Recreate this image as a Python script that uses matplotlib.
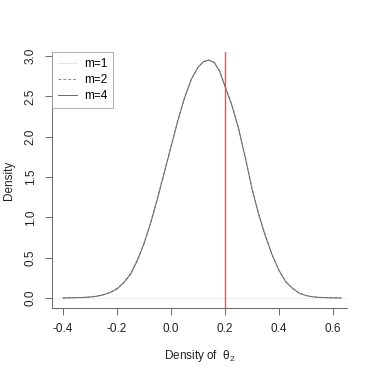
import matplotlib
matplotlib.use("Agg")
import matplotlib.pyplot as plt

plt.rcParams['font.family'] = ['Liberation Sans', 'DejaVu Sans']
plt.rcParams['mathtext.fontset'] = 'custom'
plt.rcParams['mathtext.rm'] = 'Liberation Sans'
plt.rcParams['mathtext.it'] = 'Liberation Sans'

# Posterior density of theta_2 for three values of m
theta = [-0.40, -0.375, -0.35, -0.325, -0.30, -0.275, -0.25, -0.225, -0.20, -0.175,
         -0.15, -0.125, -0.10, -0.075, -0.05, -0.025, 0.00, 0.025, 0.05, 0.075,
         0.10, 0.12, 0.14, 0.16, 0.18, 0.20, 0.225, 0.25, 0.275, 0.30,
         0.325, 0.35, 0.375, 0.40, 0.425, 0.45, 0.475, 0.50, 0.525, 0.55,
         0.575, 0.60, 0.63]
dens_m1 = [0.00, 0.002, 0.004, 0.008, 0.013, 0.023, 0.042, 0.072, 0.12, 0.20,
           0.31, 0.48, 0.69, 0.95, 1.25, 1.57, 1.89, 2.21, 2.49, 2.72,
           2.86, 2.93, 2.95, 2.92, 2.82, 2.64, 2.41, 2.12, 1.76, 1.37,
           1.05, 0.78, 0.54, 0.35, 0.21, 0.12, 0.06, 0.03, 0.015, 0.008,
           0.004, 0.002, 0.00]
dens_m2 = [0.00, 0.002, 0.004, 0.007, 0.012, 0.022, 0.040, 0.070, 0.12, 0.19,
           0.30, 0.47, 0.68, 0.94, 1.24, 1.56, 1.88, 2.20, 2.48, 2.71,
           2.86, 2.93, 2.95, 2.92, 2.82, 2.63, 2.40, 2.11, 1.75, 1.36,
           1.04, 0.77, 0.53, 0.34, 0.20, 0.12, 0.06, 0.03, 0.015, 0.008,
           0.004, 0.002, 0.00]
dens_m4 = [0.00, 0.002, 0.004, 0.007, 0.012, 0.022, 0.040, 0.069, 0.11, 0.19,
           0.29, 0.46, 0.67, 0.93, 1.23, 1.55, 1.87, 2.19, 2.48, 2.71,
           2.86, 2.93, 2.95, 2.92, 2.81, 2.62, 2.39, 2.10, 1.74, 1.35,
           1.03, 0.76, 0.53, 0.34, 0.20, 0.12, 0.06, 0.03, 0.014, 0.007,
           0.004, 0.002, 0.00]
true_value = 0.2

fig = plt.figure(figsize=(3.74, 3.74), dpi=100)
ax = fig.add_axes([0.139, 0.1765, 0.789, 0.6845])

ax.axhline(0, color='#ececec', lw=0.7, zorder=1)
ax.plot(theta, dens_m1, color='#c0c0c0', lw=0.7, linestyle=(0, (1, 1.5)), label='m=1')
ax.plot(theta, dens_m2, color='#8c8c8c', lw=0.7, linestyle=(0, (3, 2)), label='m=2')
ax.plot(theta, dens_m4, color='#6a6a6a', lw=0.7, label='m=4')
ax.axvline(true_value, color='#ff4a4a', lw=1.0)

ax.set_xlim(-0.4407, 0.652)
ax.set_ylim(-0.124, 3.05)
ax.set_xticks([-0.4, -0.2, 0.0, 0.2, 0.4, 0.6])
ax.set_xticklabels(['-0.4', '-0.2', '0.0', '0.2', '0.4', '0.6'])
ax.set_yticks([0.0, 0.5, 1.0, 1.5, 2.0, 2.5, 3.0])
ax.set_yticklabels(['0.0', '0.5', '1.0', '1.5', '2.0', '2.5', '3.0'],
                   rotation=90, va='center')

for s in ['top', 'right']:
    ax.spines[s].set_visible(False)
for s in ['left', 'bottom']:
    ax.spines[s].set_color('#666666')
    ax.spines[s].set_linewidth(0.7)
ax.tick_params(colors='#666666', labelcolor='#222222', labelsize=8.5,
               length=5, width=0.7, pad=6)

ax.set_xlabel(r'Density of  $\theta_2$', fontsize=8.5, color='#222222', labelpad=9)
ax.set_ylabel('Density', fontsize=8.5, color='#222222', va='center')
ax.yaxis.set_label_coords(-0.145, 0.5)

leg = ax.legend(loc='upper left', bbox_to_anchor=(0, 1.0), borderaxespad=0,
                fancybox=False, fontsize=8.5, handlelength=1.6, handletextpad=0.6,
                labelspacing=0.35, borderpad=0.5, handleheight=0.6)
leg.get_frame().set_edgecolor('#999999')
leg.get_frame().set_linewidth(0.7)

fig.savefig('out.png', dpi=100)
